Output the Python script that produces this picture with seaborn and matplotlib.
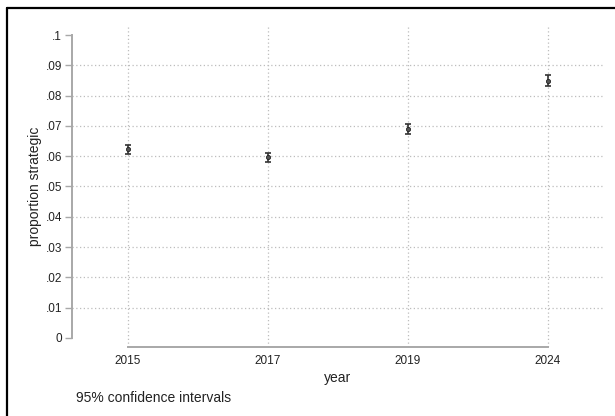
import numpy as np
import pandas as pd
import matplotlib
matplotlib.use("Agg")
import matplotlib.pyplot as plt
from matplotlib.lines import Line2D
import seaborn as sns

# values
years = ["2015", "2017", "2019", "2024"]
prop = [0.0623, 0.0596, 0.0690, 0.0849]
ci_lo = [0.0608, 0.0580, 0.0674, 0.0831]
ci_hi = [0.0638, 0.0612, 0.0706, 0.0867]
yticks = [0, 0.01, 0.02, 0.03, 0.04, 0.05, 0.06, 0.07, 0.08, 0.09, 0.1]
ytick_labels = ["0", ".01", ".02", ".03", ".04", ".05", ".06", ".07", ".08", ".09", ".1"]

df = pd.DataFrame({"year": years, "prop": prop, "lo": ci_lo, "hi": ci_hi})

sns.set_style("white")
plt.rcParams["font.family"] = ["Liberation Sans", "DejaVu Sans"]

fig = plt.figure(figsize=(6.15, 4.16), dpi=100)
ax = fig.add_axes([0.117, 0.166, 0.8635, 0.7715])

txt = "#222222"
axis_col = "#a8a8a8"
grid_col = "#bdbdbd"

# grid first so the marks sit on top
for y in yticks[1:-1]:
    ax.axhline(y, color=grid_col, lw=0.9, ls=(0, (1, 2)), zorder=0)
for i in range(len(years)):
    ax.axvline(i, color=grid_col, lw=0.9, ls=(0, (1, 2)), zorder=0)

pos = np.arange(len(df))
ax.errorbar(pos, df["prop"], yerr=[df["prop"] - df["lo"], df["hi"] - df["prop"]],
            fmt="none", ecolor="#333333", elinewidth=1.2, capsize=2.0, capthick=1.2, zorder=3)
sns.scatterplot(data=df, x="year", y="prop", ax=ax, color="#555555", s=9,
                marker="o", edgecolor="#222222", linewidth=0.6, zorder=4, legend=False)

ax.set_xlim(-0.4, 3.393)
ax.set_ylim(-0.003, 0.103)
ax.set_yticks(yticks)
ax.set_yticklabels(ytick_labels)
ax.set_xticks(pos)
ax.set_xticklabels(years)

for s in ["top", "right"]:
    ax.spines[s].set_visible(False)
ax.spines["left"].set_bounds(0, 0.1)
ax.spines["bottom"].set_bounds(0, 3)
for s in ["left", "bottom"]:
    ax.spines[s].set_color(axis_col)
    ax.spines[s].set_linewidth(1.4)

ax.tick_params(axis="y", length=5, width=1.0, color=axis_col, labelsize=8.5, labelcolor=txt, pad=2, left=True)
ax.tick_params(axis="x", length=0, labelsize=8.5, labelcolor=txt, pad=6)

ax.set_xlabel("year", fontsize=10, color=txt, labelpad=3)
ax.set_ylabel("proportion strategic", fontsize=10, color=txt, labelpad=3)
ax.grid(False)

fig.text(0.124, 0.043, "95% confidence intervals", fontsize=10, color=txt, va="center", ha="left")

# outer frame (left and top edges show in the picture)
fig.add_artist(Line2D([0.0115, 0.0115], [0, 0.981], color="black", lw=1.6, transform=fig.transFigure))
fig.add_artist(Line2D([0.0115, 1.0], [0.981, 0.981], color="black", lw=1.6, transform=fig.transFigure))

fig.savefig("out.png", dpi=100)
